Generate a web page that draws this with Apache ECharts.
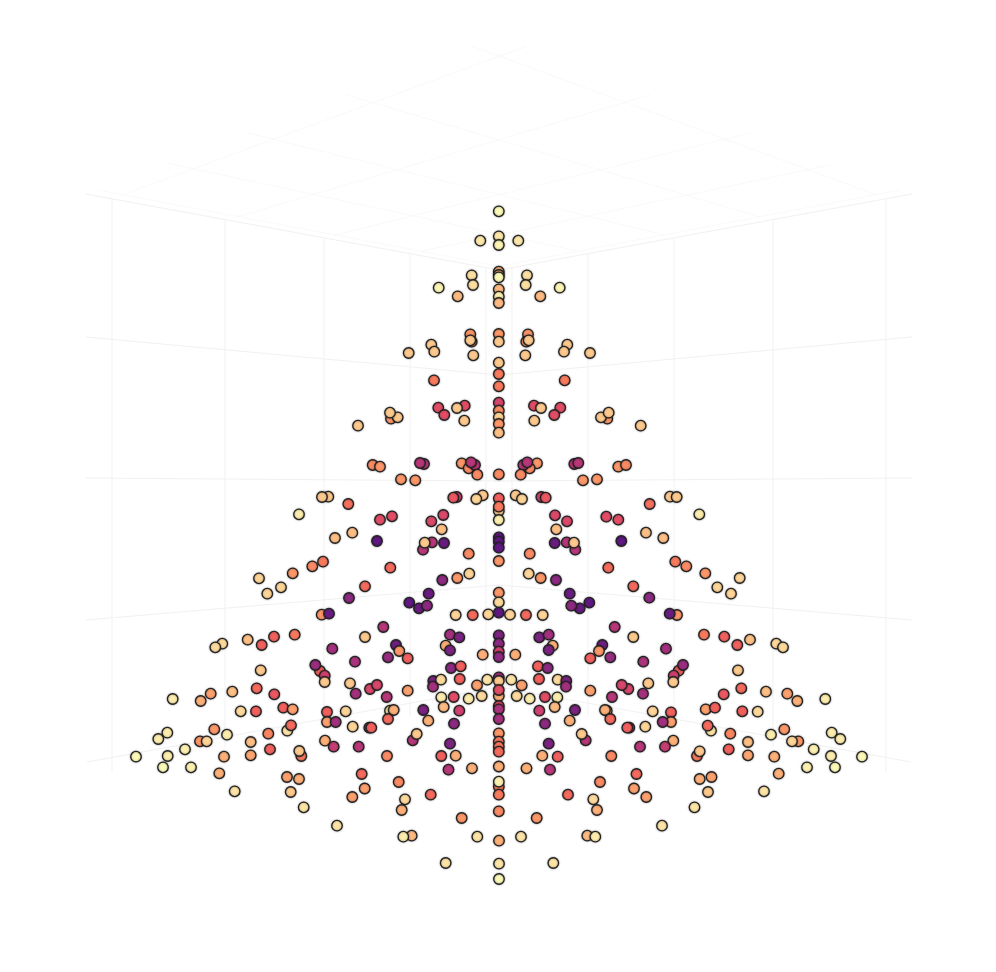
<!DOCTYPE html>
<html>
<head>
<meta charset="utf-8">
<title>Scatter</title>
<script src="https://cdn.jsdelivr.net/npm/echarts@6/dist/echarts.min.js"></script>
<style>
html,body{margin:0;padding:0;background:#fff}
#main{width:996px;height:972px}
</style>
</head>
<body>
<div id="main"></div>
<script>
// projected x, projected y, colour value
var topPts=[[498.8,211.3,1],[498.8,236.3,.96],[498.8,245,.99],[480.3,240.7,.96],[518.3,240.7,.96],
[498.8,271.7,.85],[498.8,275,.88],[498.8,277.3,1],[498.8,289.3,.87],[498.8,296.7,.98],[498.8,303,.87],
[471.7,275.3,.94],[473,285,.94],[438.7,287.7,.99],[457.7,296.3,.87],[527,275.3,.94],[525.7,285,.94],[559.7,287.7,.99],[540.3,296.3,.87]];
var neckPts=[[498.8,334,.8],[498.8,341.7,.9],[498.8,362.7,.9],[498.8,374,.75],[498.8,386.3,.75],
[470.3,334.3,.8],[471.7,341.7,.8],[470.3,340.3,.9],[528,334.3,.8],[526.3,341.7,.8],[528.7,340.3,.9],
[431.3,344.7,.9],[434.3,351.7,.9],[408.7,353,.9],[473.3,355.3,.9],[567.3,344.7,.9],[564,351.7,.9],[590,353,.9],[525.3,355.3,.9],
[434,380.3,.75],[564.7,380.3,.75]];
var ringPts=[[438.3,407.7,.65],[444.3,415,.65],[464.7,405.7,.65],[457,408,.9],[464.3,420.7,.9],
[560.3,407.7,.65],[554.3,415,.65],[534,405.7,.65],[541,408,.9],[534.3,420.7,.9],
[498.8,402.7,.62],[498.8,410.7,.78],[498.8,417.3,.92],[498.8,424,.8],[498.8,432.7,.88],
[391,418.7,.8],[397.7,417.3,.9],[390,412.7,.9],[358,425.7,.9],
[607.3,418.7,.8],[601,417.3,.9],[608.7,412.7,.9],[640.7,425.7,.9]];
var midLeftPts=[[372.7,465,.78],[380,466.7,.8],[424,464,.55],[420,463,.55],[461.7,463.3,.8],[468.7,468.3,.78],[475,465,.55],[471,462.3,.55],[477.3,474.7,.78],
[401,479.3,.8],[415.3,480.3,.8],[328.3,496.7,.9],[322,497,.9],[348.3,504,.73],[299,514.3,.97],[380,519.7,.65],[392,516.3,.65],
[456.7,497,.6],[453.3,497.7,.68],[482.7,495.3,.9],[476.3,499,.92],[431.3,521.3,.63],[443.3,515,.63],[441.7,529.3,.88],
[335,538,.88],[352.3,532.7,.88],[377,541,.35],[444,543,.38],[423,549.7,.55],[432,542.3,.55],[424.7,542.7,.9],[468.7,553.7,.78],
[323,561.7,.75],[312.3,566.3,.78],[292.7,573.3,.8],[390.3,567.7,.72],[259,578.3,.92],[267.3,593.7,.92],[281,587.3,.92],[365,586.3,.72],[349,598,.45],
[469.3,573.7,.92],[457.3,578,.8],[442.3,580,.45],[428.7,593.7,.38],[409.3,602.7,.35],[419,608.3,.38],[427,605.7,.45],
[321.7,614.7,.8],[329,613.7,.38],[455.7,615,.92],[472.7,615,.72],[488.3,614.3,.92]];
var midColumnPts=[[498.8,474.3,.78],[498.8,498.3,.7],[498.8,511,.92],[498.8,506.7,.75],[498.8,520,.97],
[498.8,537.3,.35],[498.8,541.7,.35],[498.8,547.7,.35],[498.8,561,.8],[498.8,592.7,.8],[498.8,602.3,.93],[498.8,612.7,.35]];
var midRightPts=[[618.3,466.7,.8],[626,465,.78],[574.3,464,.55],[578.3,463,.55],[537,463.3,.8],[529.7,468.3,.78],[523.3,465,.55],[527.3,462.3,.55],[520.7,474.7,.78],
[583,480.3,.8],[597,479.3,.8],[670,496.7,.9],[676.7,497,.9],[649.7,504,.73],[699.3,514.3,.97],[541.3,497,.6],[545.7,497.7,.68],[515.7,495.3,.9],[522,499,.92],
[555,515.3,.63],[567,521.3,.63],[556.3,529.3,.88],[606.3,516.7,.65],[618.3,519.7,.65],[646,532.7,.88],[663.3,538,.88],
[554.7,543,.38],[575.3,549.7,.55],[566.7,542.3,.55],[574,542.7,.9],[621.3,541,.35],[529.7,553.7,.78],[608.3,567.7,.72],
[675.3,561.7,.75],[686.3,566.3,.78],[705.3,573.3,.8],[739.7,578,.92],[717.3,587.3,.92],[731,593.7,.92],[528.7,573.7,.92],[540.7,578,.8],[556,580,.45],
[569.7,593.7,.38],[589.3,602.7,.35],[579.7,608.3,.38],[571.3,605.7,.45],[633.3,586.3,.72],[649.3,597.7,.45],[677,615,.8],[669.7,613.7,.38],
[510,614.7,.92],[526,615,.72],[542.7,615,.92]];
var lowFarLeftPts=[[222.3,643.7,.93],[215.3,647.3,.93],[247.7,639.7,.88],[261.7,645,.7],[274,636.7,.7],[294.7,634.7,.75],[260.7,670.3,.9],
[172.7,699,.97],[200.7,701,.85],[210.7,693.7,.82],[232.3,691.7,.88],[256.7,688.3,.72],[274.3,694.3,.68],[240.7,711.3,.93],[256,711.3,.7],[283.3,707.7,.7],[292.7,709.3,.82],
[287.3,730.7,.95],[291,725.3,.72],[214.3,729.3,.8],[227,734.7,.97],[200,741.3,.8],[206.7,741.3,.92],[167.3,732.7,.97],[158.3,739,.97],[185,749.3,.98],[136,756.7,1],[167.7,756,.97],[163,767.3,1],[191,767.3,.98],
[224,756.7,.85],[250.7,742,.88],[250.7,755.3,.83],[268.3,733.7,.77],[270,749.3,.7],[301.3,756,.75],[299.3,751,.9],[219.3,773.3,.85],[287,777,.82],[299,779,.85],[234.7,791.3,.95],[290.7,792,.9],[303.7,807.3,.95]];
var lowInnerLeftPts=[[383.3,627,.55],[365,637,.9],[332.3,648.7,.5],[396,645,.4],[399.3,651,.8],[388,657.3,.47],[407.7,658.3,.7],[355,661.7,.52],
[320,671,.7],[315.3,665,.48],[324.7,675.7,.6],[324.7,682,.9],[350,683.3,.9],[355.7,693.7,.5],[370,689,.62],[377,685,.62],[386.7,697,.55],[407.7,690.7,.82],
[327,712,.7],[327,722,.82],[335.7,722,.5],[345.7,711.3,.92],[352.7,726.7,.92],[369.3,727.7,.55],[371.3,727.7,.7],[390,710.7,.95],[393.7,710,.85],[388,719,.72],
[423.3,710,.42],[428.3,720.7,.85],[412.7,740.3,.55],[416.7,734,.9],[325,740.7,.85],[333.7,746.7,.58],[358.7,746.7,.55],[387,756,.78],[361.7,774,.72],[398.7,782,.78],[364.7,788.5,.82],
[450,634.7,.5],[459.3,637.3,.42],[445.7,645.7,.85],[450,650.3,.42],[482.7,654.7,.85],[451,668,.45],[460.7,666.3,.7],[459.7,679,.7],
[433.3,681,.42],[433,686.7,.5],[441,679.7,.93],[477,685.3,.82],[487.3,679.7,.95],[441.3,697.3,.97],[453.7,697,.65],[468.7,698.7,.97],[481.7,696,.93],[443.7,707,.87],[459.3,710.7,.6],[454,723.7,.45],
[450,743.7,.42],[441.3,756,.7],[455.7,755.7,.85],[448.5,769.7,.55],[472,768.3,.85]];
var lowColumnPts=[[498.8,635.3,.42],[498.8,643.7,.45],[498.8,651.7,.6],[498.8,657,.45],[498.8,677.3,.5],[498.8,681,.9],[498.8,696,.85],[498.8,690,.65],[498.8,706,.65],[498.8,709.3,.52],[498.8,719,.5],
[498.8,733.3,.8],[498.8,741.7,.75],[498.8,746.7,.75],[498.8,751.7,.72],[498.8,766.5,.85],[498.8,786.7,.75],[498.8,781.7,.98],[498.8,794.7,.75],[498.8,811.3,.78],[499,840.7,.85],[499,863.7,.95],[499,879,1]];
var lowInnerRightPts=[[614.7,627,.55],[633.3,637,.9],[666,648.7,.5],[602.3,645,.4],[599,651,.8],[610.3,657.3,.47],[590.3,658.3,.7],[643.3,661.7,.52],
[678.7,670.7,.7],[683,665,.48],[673.7,675.7,.6],[673.3,682,.9],[648.3,683.3,.9],[643,693.7,.5],[628.3,689,.62],[621.7,685,.62],[612,697,.55],[590.3,690.7,.82],
[671,712.3,.7],[671,722,.82],[662.7,722,.5],[652.7,711.3,.92],[645.3,726.7,.92],[629.3,727.7,.55],[627.3,727.7,.7],[606.7,710.7,.95],[605,710,.85],[610.3,719,.72],
[575,710,.42],[569.7,720.7,.85],[585.7,740.3,.55],[581.7,734,.9],[673.3,740.7,.85],[665,746.7,.58],[640,746.7,.55],[611.3,756,.78],[636.5,774,.72],[600,782,.78],[634,788.5,.82],
[539.3,637.3,.42],[548.7,634.7,.5],[552.7,645.7,.85],[548.7,650,.42],[515.3,654.7,.85],[538,666.3,.7],[547.7,668,.45],[539,679,.7],
[557.7,679.7,.93],[566.3,681,.42],[566,686.7,.5],[521.7,685.3,.82],[511.3,679.7,.95],[516.7,696,.93],[529.7,698.7,.97],[545,697,.65],[557.3,697.3,.97],[554.7,707,.87],[539.3,710.7,.6],[545,723.7,.45],
[548.7,743.7,.42],[542.3,755.7,.85],[557.7,756.7,.7],[550,769.7,.55],[526.5,768.3,.85]];
var lowFarRightPts=[[704,634.7,.75],[724.3,636.7,.7],[737.3,645,.7],[750,639.7,.88],[776.3,643.7,.93],[783,647.3,.93],[738,670.3,.9],
[741.3,688.3,.72],[723.7,694.3,.68],[766,691.7,.88],[787.3,693.7,.82],[797.3,701,.85],[825.3,699,.97],[705.7,709.3,.82],[715,707.7,.7],[742.3,711.3,.7],[757.7,711.7,.93],
[711,730.7,.95],[707.7,725.7,.72],[730.3,733.7,.77],[784.3,729.3,.8],[771,734.7,.97],[748,742,.88],[798.3,741.3,.8],[792,741.3,.92],[831.7,732.7,.97],[840.3,739,.97],[813.7,749.3,.98],[862,756.7,1],[831,756,.97],[835,767.3,1],[807,767.3,.98],
[774.3,756.7,.85],[748,755.3,.83],[728.7,749.3,.7],[697,756,.75],[699.7,751.3,.9],[778.7,773.7,.85],[711.5,777,.82],[699.7,779,.85],[764,791.3,.95],[708,792,.9],[694.5,807.3,.95]];
var basePts=[[352.3,797,.82],[405,799.3,.93],[401.7,810,.85],[430.7,794.7,.72],[337,825.7,.95],[411.7,835.7,.87],[403.3,836.7,.97],[461.7,818,.8],[477.3,836.7,.95],[445.7,863,.95],
[568,794.7,.72],[536.7,818,.8],[521,836.7,.95],[553.3,863,.95],[587.3,835.7,.87],[595.3,836.7,.97],[593.3,799.3,.93],[597,810,.85],[646.3,797,.82],[662,825.7,.95]];

// box edges: two end points each
var wallLines=[[[86,194],[499,270]],[[912,194],[499,270]],[[86,337],[499,375]],[[912,337],[499,375]],[[86,478],[499,481]],[[912,478],[499,481]],
[[86,620],[499,585]],[[912,620],[499,585]],[[87,762],[499,687]],[[911,762],[499,687]],
[[112,199],[112,772]],[[225,221],[225,747]],[[324,239],[324,728]],[[410,254],[410,716]],[[486,268],[486,700]],
[[512,268],[512,700]],[[588,254],[588,716]],[[674,239],[674,728]],[[773,221],[773,747]],[[886,199],[886,772]]];
var roofLines=[[[122,195],[527,46]],[[237,217],[650,95]],[[335,235],[750,133]],[[422,251],[830,165]],[[500,266],[900,190]],
[[472,46],[877,195]],[[347,95],[760,217]],[[248,133],[664,235]],[[167,163],[577,251]],[[98,190],[499,266]]];

var magmaStops=['#5f187f','#701f81','#8c2981','#a3307e','#b73779','#d0416f','#e24d66','#f1605d','#f9795d','#fd9668','#feb078','#fec98d','#fde4a6','#fbf8b8'];
var allPts=[].concat(topPts,neckPts,ringPts,midLeftPts,midColumnPts,midRightPts,lowFarLeftPts,lowInnerLeftPts,lowColumnPts,lowInnerRightPts,lowFarRightPts,basePts);

function edgeSeries(list,color,type){
	return list.map(function(edge){
		return {type:'line',data:edge,showSymbol:false,silent:true,animation:false,z:1,
			lineStyle:{color:color,width:1,type:type}};
	});
}

var series=edgeSeries(wallLines,'#f1f1f1','solid').concat(edgeSeries(roofLines,'#f5f5f5','dotted'));
series.push({
	type:'scatter',
	data:allPts,
	symbolSize:10.5,
	z:5,
	animation:false,
	itemStyle:{borderColor:'#222',borderWidth:1.3,opacity:1,shadowBlur:2,shadowColor:'rgba(0,0,0,0.4)'}
});

var option={
	backgroundColor:'#fff',
	grid:{left:0,right:0,top:0,bottom:0},
	xAxis:{type:'value',min:0,max:996,show:false},
	yAxis:{type:'value',min:0,max:972,inverse:true,show:false},
	visualMap:{show:false,type:'continuous',min:.35,max:1,dimension:2,seriesIndex:series.length-1,inRange:{color:magmaStops}},
	series:series
};

var myChart=echarts.init(document.getElementById('main'),null,{renderer:'canvas'});
myChart.setOption(option);
</script>
</body>
</html>
